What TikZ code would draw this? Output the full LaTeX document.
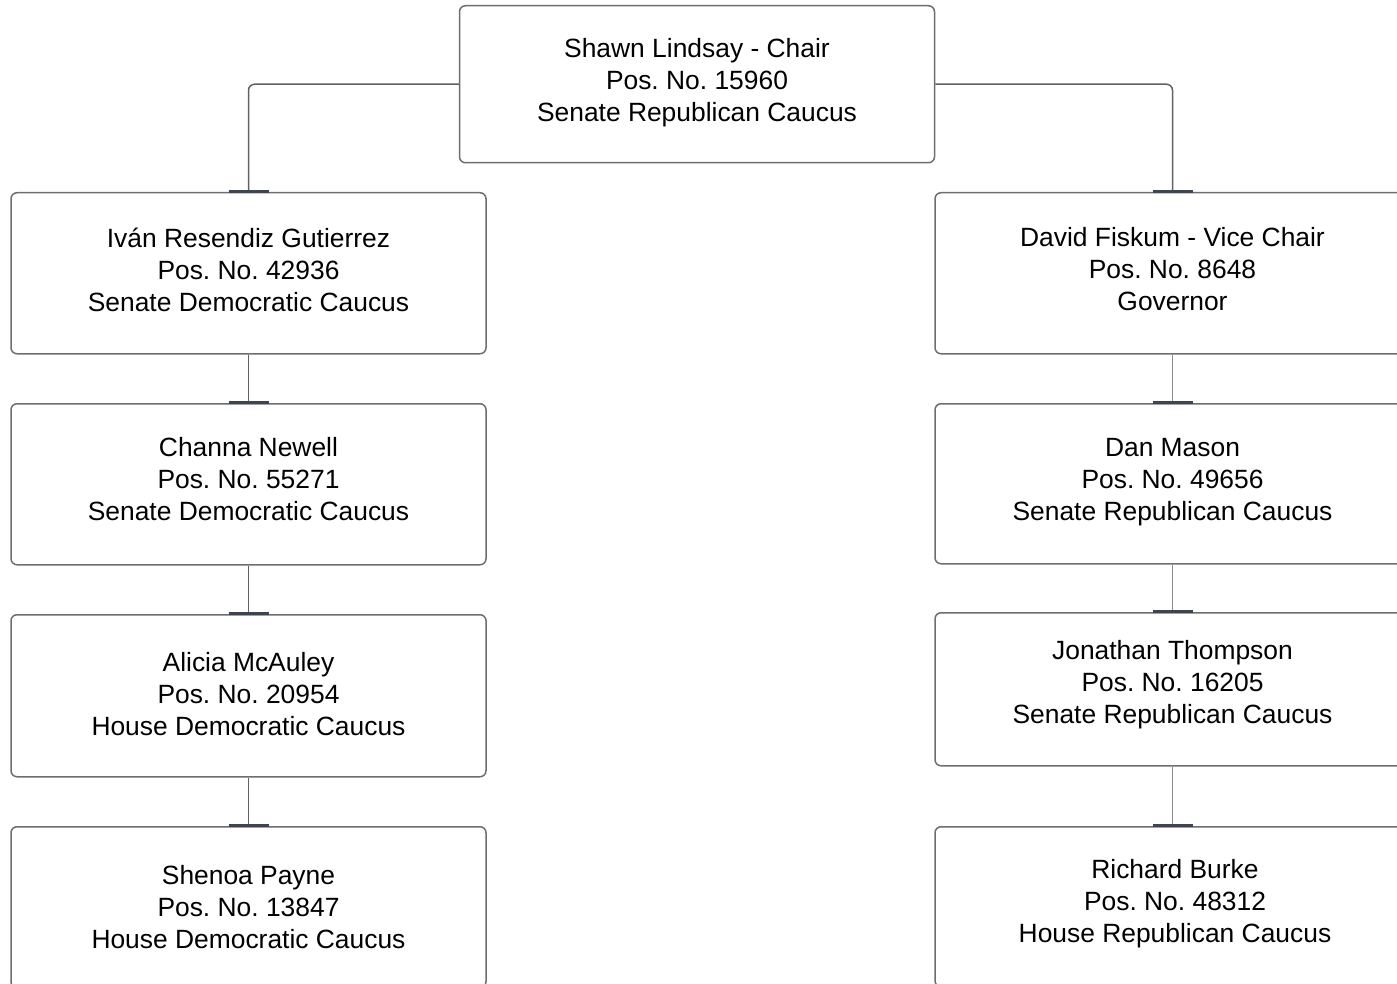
\documentclass[tikz,border=0pt]{standalone}
\usepackage{fontspec}
\setmainfont{Liberation Sans}
\frenchspacing
\definecolor{boxgray}{HTML}{6B6E73}
\definecolor{conngray}{HTML}{5F6166}
\definecolor{lightconn}{HTML}{8A8C90}
\definecolor{bardark}{HTML}{3D4452}
\begin{document}
\begin{tikzpicture}[x=0.5pt,y=-0.5pt,
  box/.style={draw=boxgray, line width=0.75pt, rounded corners=3pt, minimum width=237.5pt,
    inner sep=0pt, anchor=north, fill=white},
  txt/.style={align=center, font=\fontsize{13.2pt}{16pt}\selectfont\frenchspacing, inner sep=0pt},
  conn/.style={draw=conngray, line width=0.75pt, rounded corners=3pt},
  connlight/.style={draw=lightconn, line width=0.55pt},
  bar/.style={draw=bardark, line width=1.5pt}]
\useasboundingbox (0,0) rectangle (1397,984);
\clip (0,0) rectangle (1397,984);
\fill[white] (0,0) rectangle (1397,984);

\node[box, minimum height=78.5pt] (top) at (697,5) {};
\node[box, minimum height=80.5pt] (L1) at (248.5,192) {};
\node[box, minimum height=80.5pt] (L2) at (248.5,403) {};
\node[box, minimum height=81pt] (L3) at (248.5,614) {};
\node[box, minimum height=80.5pt] (L4) at (248.5,826) {};
\node[box, minimum height=80.5pt] (R1) at (1172.5,192) {};
\node[box, minimum height=80pt] (R2) at (1172.5,403) {};
\node[box, minimum height=76.5pt] (R3) at (1172.5,612) {};
\node[box, minimum height=80pt] (R4) at (1172.5,826) {};

\node[txt] (ttop) at (697,82.5) {Shawn Lindsay - Chair\\Pos. No. 15960\\Senate Republican Caucus};
\node[txt] (tL1) at (248.5,269.5) {Iván Resendiz Gutierrez\\Pos. No. 42936\\Senate Democratic Caucus};
\node[txt] (tL2) at (248.5,479.5) {Channa Newell\\Pos. No. 55271\\Senate Democratic Caucus};
\node[txt] (tL3) at (248.5,694.5) {Alicia McAuley\\Pos. No. 20954\\House Democratic Caucus};
\node[txt] (tL4) at (248.5,907.5) {Shenoa Payne\\Pos. No. 13847\\House Democratic Caucus};
\node[txt] (tR1) at (1172.5,269.5) {David Fiskum - Vice Chair\\Pos. No. 8648\\Governor};
\node[txt] (tR2) at (1172.5,482.5) {Dan Mason\\Pos. No. 49656\\Senate Republican Caucus};
\node[txt] (tR3) at (1172.5,684.5) {Jonathan Thompson\\Pos. No. 16205\\Senate Republican Caucus};
\node[txt] (tR4) at (1175,903.5) {Richard Burke\\Pos. No. 48312\\House Republican Caucus};

\draw[conn] (top.west) -| (L1.north);
\draw[conn] (top.east) -| (R1.north);
\draw[conn] (L1.south) -- (L2.north);
\draw[conn] (L2.south) -- (L3.north);
\draw[conn] (L3.south) -- (L4.north);
\draw[connlight] (R1.south) -- (R2.north);
\draw[connlight] (R2.south) -- (R3.north);
\draw[connlight] (R3.south) -- (R4.north);

\foreach \n in {L1,L2,L3,L4,R1,R2,R3,R4}
  \draw[bar] ([xshift=-10pt,yshift=0.3pt]\n.north) -- ([xshift=10pt,yshift=0.3pt]\n.north);
\end{tikzpicture}
\end{document}
